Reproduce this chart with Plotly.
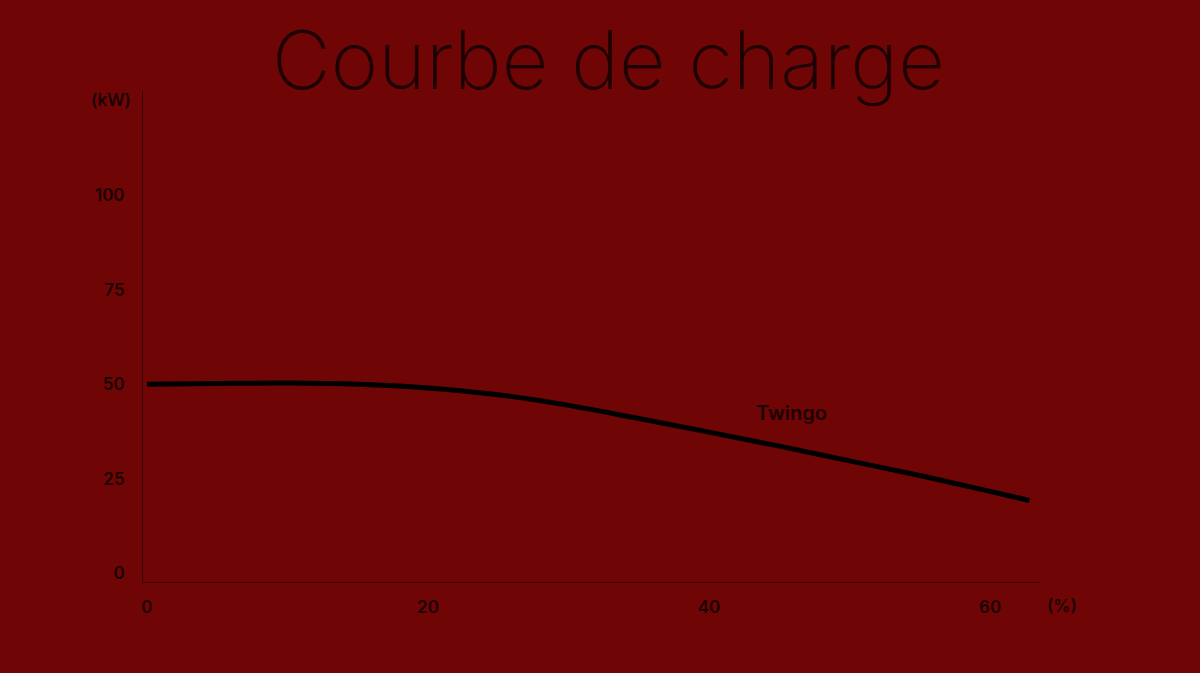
import plotly.graph_objects as go

# charge curve
soc_pct = [0, 5, 10, 15, 20, 25, 30, 35, 40, 45, 50, 55, 60, 62.8]
power_kw = [50, 50.2, 50.3, 50.0, 49.0, 47.2, 44.4, 40.9, 37.3, 33.6, 29.7, 25.8, 21.6, 19.2]

x_ticks = [0, 20, 40, 60]
y_ticks = [0, 25, 50, 75, 100]

bg = "#6f0505"
ink = "#1c0202"

fig = go.Figure()
fig.add_trace(go.Scatter(x=soc_pct, y=power_kw, mode="lines",
                         line=dict(color="#000000", width=5, shape="spline"),
                         showlegend=False, hoverinfo="skip"))

fig.update_layout(
    width=1200, height=673,
    paper_bgcolor=bg, plot_bgcolor=bg,
    margin=dict(l=143, r=160, t=91, b=91),
    title=dict(text="Courbe de charge", x=0.507, xanchor="center", y=0.91, yanchor="middle",
               font=dict(family="Inter", size=81, color=ink, weight=200)),
    font=dict(family="Inter", color=ink, size=17),
)
fig.update_xaxes(range=[-0.28, 63.55], tickvals=x_ticks, showgrid=False, zeroline=False,
                 showline=True, linecolor="#3a0202", linewidth=1, ticks="",
                 ticklabelstandoff=10, tickfont=dict(size=17, color=ink, weight=600))
fig.update_yaxes(range=[-2.4, 127.7], tickvals=y_ticks, showgrid=False, zeroline=False,
                 showline=True, linecolor="#3a0202", linewidth=1, ticks="",
                 ticklabelstandoff=14, tickfont=dict(size=17, color=ink, weight=600))

fig.add_annotation(text="(kW)", xref="paper", yref="paper", x=-0.0357, y=0.982,
                   xanchor="center", yanchor="middle",
                   showarrow=False, font=dict(size=17, color=ink, weight=600))
fig.add_annotation(text="(%)", xref="paper", yref="paper", x=1.0245, y=-0.049,
                   xanchor="center", yanchor="middle",
                   showarrow=False, font=dict(size=17, color=ink, weight=600))
fig.add_annotation(text="Twingo", x=45.9, y=42.5, showarrow=False,
                   xanchor="center", yanchor="middle",
                   font=dict(size=20, color=ink, weight=600))

fig.write_html("out.html", config={"displayModeBar": False},
               post_script="document.body.style.margin='0';document.body.style.background='#6f0505';")
